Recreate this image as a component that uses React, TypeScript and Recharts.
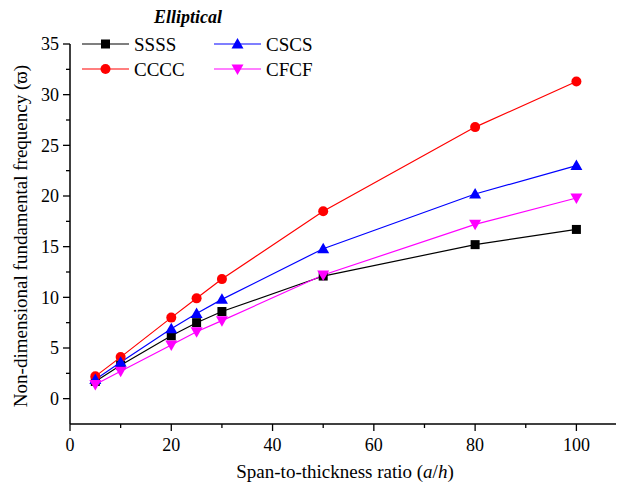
import React from "react";
import { LineChart, Line, XAxis, YAxis, Legend, Label } from "recharts";

const ratios = [5, 10, 20, 25, 30, 50, 80, 100];
const ssss = [1.7, 3.3, 6.2, 7.5, 8.6, 12.1, 15.2, 16.7];
const cccc = [2.2, 4.1, 8.0, 9.9, 11.8, 18.5, 26.8, 31.3];
const cscs = [1.9, 3.6, 6.9, 8.4, 9.8, 14.8, 20.2, 23.0];
const cfcf = [1.4, 2.7, 5.3, 6.6, 7.7, 12.2, 17.2, 19.8];

const xTicks = [0, 10, 20, 30, 40, 50, 60, 70, 80, 90, 100];
const yTicks = [0, 2.5, 5, 7.5, 10, 12.5, 15, 17.5, 20, 22.5, 25, 27.5, 30, 32.5, 35];

const series = [
  { key: "SSSS", values: ssss, color: "#000000", shape: "square" },
  { key: "CCCC", values: cccc, color: "#ff0000", shape: "circle" },
  { key: "CSCS", values: cscs, color: "#0000ff", shape: "up" },
  { key: "CFCF", values: cfcf, color: "#ff00ff", shape: "down" },
];

const data = ratios.map((r, i) => {
  const row: any = { x: r };
  series.forEach((s) => (row[s.key] = s.values[i]));
  return row;
});

const FONT = "'Liberation Serif', 'DejaVu Serif', serif";
const tStyle: any = { fontFamily: FONT };

function Marker({ cx, cy, shape, color }: any) {
  if (cx == null || cy == null) return null;
  if (shape === "square")
    return <rect x={cx - 4.5} y={cy - 4.5} width={9} height={9} fill={color} />;
  if (shape === "circle") return <circle cx={cx} cy={cy} r={5} fill={color} />;
  if (shape === "up")
    return <polygon points={`${cx},${cy - 6} ${cx + 6},${cy + 4.5} ${cx - 6},${cy + 4.5}`} fill={color} />;
  return <polygon points={`${cx},${cy + 6} ${cx + 6},${cy - 4.5} ${cx - 6},${cy - 4.5}`} fill={color} />;
}

const XTick = (props: any) => {
  const { x, y, payload } = props;
  const v = payload.value;
  const major = v % 20 === 0;
  return (
    <g>
      <line x1={x} x2={x} y1={y} y2={y + (major ? 7 : 4)} stroke="#000" strokeWidth={1.3} />
      {major && (
        <text x={x} y={y + 27} textAnchor="middle" style={tStyle} fontSize={18} fill="#000">
          {v}
        </text>
      )}
    </g>
  );
};

const YTick = (props: any) => {
  const { x, y, payload } = props;
  const v = payload.value;
  const major = v % 5 === 0;
  return (
    <g>
      <line x1={x} x2={x - (major ? 7 : 4)} y1={y} y2={y} stroke="#000" strokeWidth={1.3} />
      {major && (
        <text x={x - 11} y={y} dy="0.35em" textAnchor="end" style={tStyle} fontSize={18} fill="#000">
          {v}
        </text>
      )}
    </g>
  );
};

const renderLegend = () => {
  const cols = [74, 206];
  const rows = [36, 61];
  return (
    <svg width={400} height={80} style={{ display: "block" }}>
      <text x={180} y={15} textAnchor="middle" style={tStyle} fontSize={18} fontWeight="bold" fontStyle="italic" fill="#000">
        Elliptical
      </text>
      {series.map((s, i) => {
        const cx = cols[Math.floor(i / 2)];
        const cy = rows[i % 2];
        return (
          <g key={s.key}>
            <line x1={cx} x2={cx + 47} y1={cy} y2={cy} stroke={s.color} strokeWidth={1.2} />
            <Marker cx={cx + 23.5} cy={cy} shape={s.shape} color={s.color} />
            <text x={cx + 52} y={cy} dy="0.35em" style={tStyle} fontSize={19} fill="#000">
              {s.key}
            </text>
          </g>
        );
      })}
    </svg>
  );
};

export default function App() {
  return (
    <div style={{ width: 616, height: 482, marginBottom: -8, position: "relative", fontFamily: FONT }}>
      <LineChart width={616} height={482} data={data} margin={{ top: 36, right: 0, left: 0, bottom: 0 }}>
        <XAxis
          dataKey="x"
          type="number"
          domain={[0, 109.4]}
          ticks={xTicks}
          tick={<XTick />}
          tickLine={false}
          tickSize={0}
          tickMargin={0}
          height={66}
          axisLine={{ stroke: "#000", strokeWidth: 1.5 }}
          interval={0}
          allowDataOverflow
        >
          <Label
            content={() => (
              <text x={337} y={470} textAnchor="middle" style={tStyle} fontSize={19} fill="#000">
                Span-to-thickness ratio (<tspan fontStyle="italic">a</tspan>/<tspan fontStyle="italic">h</tspan>)
              </text>
            )}
          />
        </XAxis>
        <YAxis
          type="number"
          domain={[-2.5, 35]}
          ticks={yTicks}
          tick={<YTick />}
          tickLine={false}
          tickSize={0}
          tickMargin={0}
          width={62}
          axisLine={{ stroke: "#000", strokeWidth: 1.5 }}
          interval={0}
        >
          <Label
            content={() => (
              <text
                x={12}
                y={228}
                transform="rotate(-90 12 228)"
                textAnchor="middle"
                dy="0.35em"
                style={tStyle}
                fontSize={19}
                fill="#000"
              >
                Non-dimensional fundamental frequency (ϖ)
              </text>
            )}
          />
        </YAxis>
        <Legend
          layout="vertical"
          align="center"
          verticalAlign="middle"
          content={renderLegend}
          wrapperStyle={{ position: "absolute", left: 0, top: 0, width: 400, height: 80 }}
        />
        {series.map((s) => (
          <Line
            key={s.key}
            dataKey={s.key}
            name={s.key}
            stroke={s.color}
            strokeWidth={1.2}
            isAnimationActive={false}
            dot={(p: any) => <Marker key={`${s.key}-${p.index}`} cx={p.cx} cy={p.cy} shape={s.shape} color={s.color} />}
            activeDot={false}
          />
        ))}
      </LineChart>
    </div>
  );
}
